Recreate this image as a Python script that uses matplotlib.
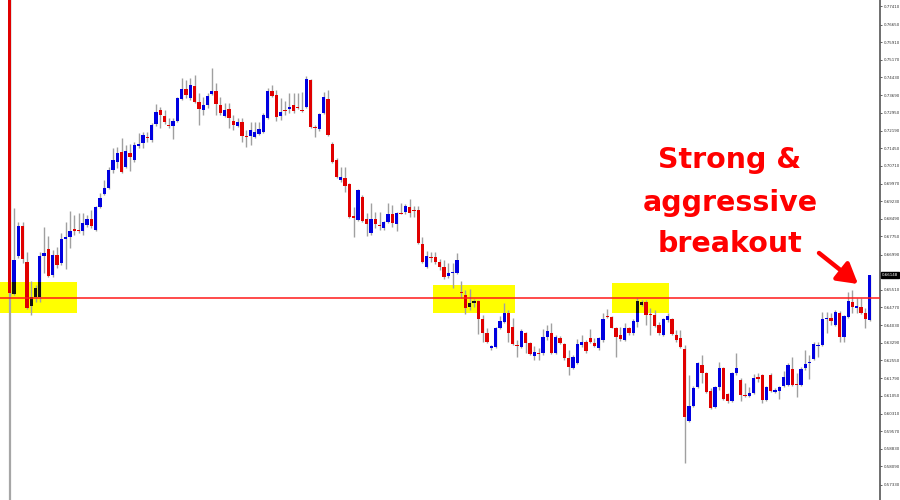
import numpy as np
import matplotlib
matplotlib.use("Agg")
import matplotlib.pyplot as plt
from matplotlib.patches import Rectangle

# daily candles (price units)
opens = [
    0.7950,
    0.6533, 0.6693, 0.6819, 0.6668, 0.6483, 0.6521, 0.6521, 0.6693, 0.6722, 0.6613,
    0.6697, 0.6663, 0.6764, 0.6773, 0.6806, 0.6802, 0.6798, 0.6823, 0.6848, 0.6802,
    0.6899, 0.6953, 0.6978, 0.7054, 0.7088, 0.7130, 0.7067, 0.7125, 0.7096, 0.7155,
    0.7167, 0.7193, 0.7180, 0.7247, 0.7306, 0.7281, 0.7243, 0.7239, 0.7260, 0.7352,
    0.7394, 0.7356, 0.7407, 0.7340, 0.7306, 0.7327, 0.7373, 0.7386, 0.7327, 0.7281,
    0.7310, 0.7260, 0.7239, 0.7256, 0.7197, 0.7197, 0.7193, 0.7205, 0.7214, 0.7272,
    0.7386, 0.7369, 0.7281, 0.7306, 0.7310, 0.7327, 0.7319, 0.7306, 0.7319, 0.7432,
    0.7235, 0.7226, 0.7293, 0.7352, 0.7163, 0.7096, 0.7012, 0.7020, 0.6995, 0.6861,
    0.6844, 0.6941, 0.6848, 0.6789, 0.6848, 0.6823, 0.6810, 0.6836, 0.6869, 0.6827,
    0.6873, 0.6878, 0.6899, 0.6886, 0.6886, 0.6743, 0.6647, 0.6689, 0.6689, 0.6668,
    0.6647, 0.6609, 0.6621, 0.6621, 0.6542, 0.6529, 0.6479, 0.6495, 0.6504, 0.6428,
    0.6369, 0.6306, 0.6311, 0.6390, 0.6416, 0.6453, 0.6395, 0.6319, 0.6311, 0.6369,
    0.6327, 0.6273, 0.6285, 0.6285, 0.6353, 0.6369, 0.6285, 0.6348, 0.6323, 0.6264,
    0.6222, 0.6243, 0.6319, 0.6332, 0.6348, 0.6327, 0.6306, 0.6340, 0.6441, 0.6437,
    0.6390, 0.6361, 0.6340, 0.6390, 0.6369, 0.6416, 0.6487, 0.6500, 0.6449, 0.6445,
    0.6403, 0.6361, 0.6424, 0.6428, 0.6361, 0.6348, 0.6302, 0.6000, 0.6063, 0.6143,
    0.6235, 0.6201, 0.6126, 0.6059, 0.6143, 0.6222, 0.6113, 0.6084, 0.6201, 0.6172,
    0.6109, 0.6105, 0.6117, 0.6185, 0.6193, 0.6088, 0.6193, 0.6122, 0.6126, 0.6147,
    0.6151, 0.6218, 0.6155, 0.6151, 0.6222, 0.6243, 0.6260, 0.6315, 0.6319, 0.6428,
    0.6432, 0.6403, 0.6453, 0.6353, 0.6437, 0.6500, 0.6474, 0.6479, 0.6453, 0.6424,
]
highs = [
    0.7990,
    0.6894, 0.6836, 0.6836, 0.6710, 0.6588, 0.6571, 0.6710, 0.6815, 0.6777, 0.6718,
    0.6731, 0.6789, 0.6836, 0.6882, 0.6865, 0.6873, 0.6873, 0.6865, 0.6886, 0.6903,
    0.6957, 0.7012, 0.7067, 0.7146, 0.7151, 0.7188, 0.7159, 0.7163, 0.7172, 0.7209,
    0.7214, 0.7214, 0.7251, 0.7331, 0.7319, 0.7306, 0.7272, 0.7272, 0.7361, 0.7440,
    0.7432, 0.7440, 0.7453, 0.7377, 0.7361, 0.7377, 0.7482, 0.7419, 0.7361, 0.7335,
    0.7335, 0.7285, 0.7272, 0.7272, 0.7222, 0.7256, 0.7256, 0.7256, 0.7293, 0.7398,
    0.7411, 0.7390, 0.7356, 0.7344, 0.7377, 0.7377, 0.7377, 0.7382, 0.7449, 0.7436,
    0.7243, 0.7293, 0.7382, 0.7390, 0.7172, 0.7104, 0.7067, 0.7067, 0.6999, 0.6899,
    0.6974, 0.6949, 0.6873, 0.6915, 0.6878, 0.6878, 0.6840, 0.6915, 0.6907, 0.6878,
    0.6915, 0.6911, 0.6932, 0.6903, 0.6903, 0.6773, 0.6714, 0.6710, 0.6710, 0.6680,
    0.6676, 0.6663, 0.6663, 0.6705, 0.6588, 0.6550, 0.6554, 0.6512, 0.6508, 0.6445,
    0.6390, 0.6319, 0.6395, 0.6441, 0.6495, 0.6466, 0.6432, 0.6340, 0.6386, 0.6374,
    0.6332, 0.6315, 0.6306, 0.6386, 0.6403, 0.6411, 0.6361, 0.6357, 0.6327, 0.6298,
    0.6277, 0.6344, 0.6361, 0.6340, 0.6386, 0.6348, 0.6353, 0.6453, 0.6470, 0.6441,
    0.6395, 0.6395, 0.6411, 0.6395, 0.6428, 0.6516, 0.6508, 0.6508, 0.6474, 0.6466,
    0.6416, 0.6432, 0.6453, 0.6432, 0.6382, 0.6382, 0.6319, 0.6193, 0.6147, 0.6248,
    0.6277, 0.6206, 0.6138, 0.6147, 0.6248, 0.6227, 0.6117, 0.6206, 0.6285, 0.6180,
    0.6159, 0.6143, 0.6197, 0.6201, 0.6197, 0.6147, 0.6201, 0.6138, 0.6147, 0.6210,
    0.6243, 0.6269, 0.6201, 0.6227, 0.6298, 0.6277, 0.6332, 0.6332, 0.6458, 0.6458,
    0.6453, 0.6466, 0.6462, 0.6445, 0.6542, 0.6550, 0.6516, 0.6516, 0.6474, 0.66148,
]
lows = [
    0.6525,
    0.6529, 0.6684, 0.6663, 0.6470, 0.6445, 0.6500, 0.6500, 0.6621, 0.6605, 0.6605,
    0.6642, 0.6655, 0.6638, 0.6726, 0.6781, 0.6789, 0.6781, 0.6815, 0.6810, 0.6798,
    0.6894, 0.6949, 0.6974, 0.7041, 0.7062, 0.7041, 0.7062, 0.7050, 0.7088, 0.7146,
    0.7146, 0.7172, 0.7172, 0.7239, 0.7230, 0.7247, 0.7230, 0.7184, 0.7256, 0.7348,
    0.7356, 0.7348, 0.7335, 0.7243, 0.7285, 0.7314, 0.7369, 0.7285, 0.7285, 0.7277,
    0.7230, 0.7222, 0.7235, 0.7172, 0.7151, 0.7159, 0.7188, 0.7201, 0.7209, 0.7268,
    0.7361, 0.7260, 0.7264, 0.7285, 0.7293, 0.7293, 0.7310, 0.7298, 0.7314, 0.7230,
    0.7193, 0.7218, 0.7289, 0.7197, 0.7083, 0.7020, 0.7004, 0.6962, 0.6852, 0.6773,
    0.6840, 0.6836, 0.6777, 0.6781, 0.6810, 0.6802, 0.6802, 0.6831, 0.6815, 0.6798,
    0.6869, 0.6869, 0.6857, 0.6857, 0.6743, 0.6663, 0.6642, 0.6668, 0.6659, 0.6634,
    0.6596, 0.6600, 0.6558, 0.6617, 0.6516, 0.6449, 0.6466, 0.6479, 0.6365, 0.6332,
    0.6327, 0.6298, 0.6306, 0.6386, 0.6411, 0.6332, 0.6319, 0.6269, 0.6306, 0.6285,
    0.6277, 0.6256, 0.6256, 0.6277, 0.6340, 0.6281, 0.6281, 0.6323, 0.6256, 0.6193,
    0.6218, 0.6239, 0.6311, 0.6285, 0.6327, 0.6311, 0.6298, 0.6332, 0.6432, 0.6390,
    0.6269, 0.6336, 0.6336, 0.6361, 0.6361, 0.6395, 0.6483, 0.6403, 0.6361, 0.6395,
    0.6361, 0.6357, 0.6416, 0.6361, 0.6332, 0.6306, 0.5823, 0.5996, 0.6059, 0.6138,
    0.6159, 0.6117, 0.6050, 0.6054, 0.6130, 0.6088, 0.6075, 0.6080, 0.6193, 0.6084,
    0.6101, 0.6101, 0.6113, 0.6164, 0.6075, 0.6084, 0.6122, 0.6117, 0.6092, 0.6143,
    0.6147, 0.6147, 0.6101, 0.6147, 0.6214, 0.6176, 0.6256, 0.6269, 0.6315, 0.6369,
    0.6403, 0.6399, 0.6332, 0.6332, 0.6432, 0.6453, 0.6453, 0.6449, 0.6390, 0.6420,
]
closes = [
    0.6537,
    0.6676, 0.6819, 0.6680, 0.6474, 0.6521, 0.6558, 0.6693, 0.6705, 0.6609, 0.6697,
    0.6655, 0.6764, 0.6773, 0.6798, 0.6798, 0.6798, 0.6831, 0.6848, 0.6819, 0.6899,
    0.6936, 0.6978, 0.7054, 0.7096, 0.7125, 0.7046, 0.7134, 0.7109, 0.7159, 0.7163,
    0.7201, 0.7188, 0.7243, 0.7298, 0.7285, 0.7256, 0.7239, 0.7260, 0.7356, 0.7394,
    0.7369, 0.7411, 0.7340, 0.7310, 0.7327, 0.7365, 0.7386, 0.7331, 0.7293, 0.7306,
    0.7272, 0.7243, 0.7256, 0.7197, 0.7193, 0.7222, 0.7214, 0.7226, 0.7285, 0.7386,
    0.7365, 0.7277, 0.7298, 0.7302, 0.7319, 0.7302, 0.7314, 0.7302, 0.7436, 0.7235,
    0.7230, 0.7289, 0.7361, 0.7201, 0.7088, 0.7025, 0.7025, 0.6987, 0.6857, 0.6852,
    0.6970, 0.6840, 0.6827, 0.6848, 0.6827, 0.6819, 0.6836, 0.6869, 0.6831, 0.6873,
    0.6869, 0.6903, 0.6873, 0.6882, 0.6747, 0.6668, 0.6693, 0.6684, 0.6668, 0.6647,
    0.6605, 0.6621, 0.6626, 0.6676, 0.6537, 0.6474, 0.6495, 0.6504, 0.6428, 0.6369,
    0.6332, 0.6315, 0.6390, 0.6420, 0.6453, 0.6369, 0.6323, 0.6315, 0.6378, 0.6327,
    0.6281, 0.6290, 0.6281, 0.6353, 0.6378, 0.6285, 0.6353, 0.6327, 0.6264, 0.6227,
    0.6269, 0.6323, 0.6332, 0.6294, 0.6332, 0.6315, 0.6348, 0.6428, 0.6437, 0.6390,
    0.6353, 0.6344, 0.6390, 0.6369, 0.6420, 0.6504, 0.6500, 0.6445, 0.6445, 0.6399,
    0.6369, 0.6428, 0.6441, 0.6365, 0.6340, 0.6311, 0.6017, 0.6063, 0.6138, 0.6243,
    0.6201, 0.6122, 0.6054, 0.6143, 0.6222, 0.6092, 0.6084, 0.6201, 0.6222, 0.6109,
    0.6105, 0.6117, 0.6180, 0.6176, 0.6088, 0.6143, 0.6126, 0.6130, 0.6143, 0.6185,
    0.6235, 0.6151, 0.6151, 0.6218, 0.6239, 0.6248, 0.6323, 0.6319, 0.6428, 0.6432,
    0.6420, 0.6458, 0.6353, 0.6441, 0.6504, 0.6479, 0.6483, 0.6453, 0.6428, 0.66148,
]

# price scale labels on the right (0.66250 sits under the current-price box)
tick_labels = ["0.77410", "0.76650", "0.75910", "0.75170", "0.74430", "0.73690", "0.72950",
               "0.72190", "0.71450", "0.70710", "0.69970", "0.69230", "0.68490", "0.67750",
               "0.66990", "0.65510", "0.64770", "0.64030", "0.63290", "0.62550",
               "0.61790", "0.61050", "0.60310", "0.59570", "0.58830", "0.58090", "0.57330"]

# support / resistance level and the three yellow zones (bar index from-to, price low-high)
level = 0.6515
zone_start = [-2.3, 98.4, 140.1]
zone_end = [15.6, 117.5, 153.3]
zone_low = [0.6453, 0.6453, 0.6453]
zone_high = [0.6584, 0.6571, 0.6579]

note_lines = ["Strong &", "aggressive", "breakout"]

o = np.array(opens)
h = np.array(highs)
l = np.array(lows)
c = np.array(closes)
x = np.arange(len(c))

bull = c >= o
doji = np.abs(c - o) < 0.0003
body_col = np.where(bull, "#0000e0", "#e00000").astype(object)
body_col[doji] = "#1a1a1a"
bottom = np.minimum(o, c)
height = np.maximum(np.abs(c - o), 0.0003)

fig = plt.figure(figsize=(9, 5), dpi=100)
ax = fig.add_axes([0, 0, 880 / 900, 1])
ax.set_xlim(-2.26, 202.4)
ax.set_ylim(0.5668, 0.7768)

# zones behind everything
zone_patches = []
for x0, x1, lo, hi in zip(zone_start, zone_end, zone_low, zone_high):
    r = Rectangle((x0, lo), x1 - x0, hi - lo, facecolor="#ffff00", edgecolor="none", zorder=0.5)
    ax.add_patch(r)
    zone_patches.append(r)

ax.axvline(0, color="#a6a6a6", lw=1.6, zorder=0.8)

ax.vlines(x, l, h, color="#a0a0a0", lw=1.0, zorder=1)
ax.bar(x, height, bottom=bottom, width=0.78, color=list(body_col), zorder=2)

# blue bodies look black where they sit on the yellow zones
for r in zone_patches:
    dark = ax.bar(x[bull], height[bull], bottom=bottom[bull], width=0.78, color="#111111", zorder=2.1)
    for b in dark:
        b.set_clip_path(r)

ax.axhline(level, color="#ff1a1a", lw=1.1, zorder=3)

# axis styling
for side in ["left", "top", "bottom"]:
    ax.spines[side].set_visible(False)
ax.spines["right"].set_color("#555555")
ax.spines["right"].set_linewidth(1.2)
ax.set_xticks([])
ax.yaxis.tick_right()
ax.set_yticks([float(t) for t in tick_labels])
ax.set_yticklabels(tick_labels)
ax.tick_params(axis="y", length=1.5, width=0.6, color="#444444", labelsize=2.9,
               labelcolor="#333333", pad=1.0)

ax.text(1.002, closes[-1], f"{closes[-1]:.5f}", transform=ax.get_yaxis_transform(),
        ha="left", va="center", fontsize=2.9, color="white", zorder=5, clip_on=False,
        bbox=dict(boxstyle="square,pad=0.25", fc="black", ec="black"))

# annotation
for txt, yb in zip(note_lines, [167.5, 211, 252]):
    fig.text(730 / 900, 1 - yb / 500, txt, ha="center", va="baseline", fontsize=20.5,
             fontweight="bold", color="#ff0000", family="DejaVu Sans")

ax.annotate("", xy=(858, 500 - 284), xycoords="figure pixels",
            xytext=(819, 500 - 253), textcoords="figure pixels",
            arrowprops=dict(arrowstyle="-|>,head_length=0.6,head_width=0.35", color="#ff0000",
                            lw=3.2, mutation_scale=20, shrinkA=0, shrinkB=0))

fig.savefig("out.png", dpi=100, facecolor="white")
